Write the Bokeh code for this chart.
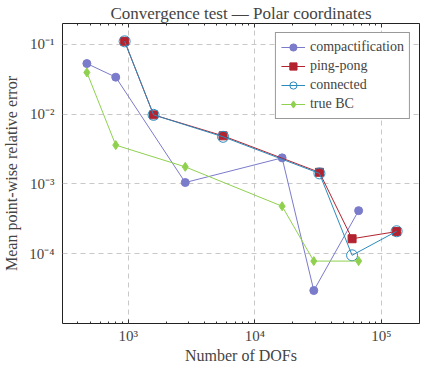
from bokeh.plotting import figure
from bokeh.models import FixedTicker, LogAxis, Legend, LegendItem
from bokeh.embed import file_html
from bokeh.resources import INLINE

# ---- data ----
comp_x = [472, 798, 2825, 16440, 29250, 66100]
comp_y = [0.0533, 0.034, 1.05e-3, 2.37e-3, 2.97e-5, 4.15e-4]

pp_x = [938, 1587, 5620, 32400, 58700, 132000]
pp_y = [0.111, 0.0098, 4.9e-3, 1.47e-3, 1.64e-4, 2.08e-4]

con_x = [938, 1587, 5620, 32400, 58700, 132000]
con_y = [0.111, 0.0098, 4.75e-3, 1.42e-3, 9.5e-5, 2.1e-4]

bc_x = [472, 798, 2825, 16440, 29250, 66100]
bc_y = [0.0398, 3.61e-3, 1.76e-3, 4.8e-4, 7.85e-5, 7.85e-5]

x_ticks = [1e3, 1e4, 1e5]
x_labels = {1e3: "10³", 1e4: "10⁴", 1e5: "10⁵"}
y_ticks = [1e-4, 1e-3, 1e-2, 1e-1]
y_labels = {1e-4: "10⁻⁴", 1e-3: "10⁻³", 1e-2: "10⁻²", 1e-1: "10⁻¹"}

C_COMP = "#7b7bcb"
C_PP = "#b2232f"
C_CON = "#2b8bbd"
C_BC = "#8fd14f"
FONT = "Liberation Serif"

minor = [m * 10 ** e for e in range(2, 6) for m in range(2, 10)]
xt = FixedTicker(ticks=x_ticks, minor_ticks=minor)
yt = FixedTicker(ticks=y_ticks, minor_ticks=[])

p = figure(width=420, height=366, x_axis_type="log", y_axis_type="log",
           x_range=(303, 200000), y_range=(1.0e-5, 0.2),
           output_backend="svg", toolbar_location=None,
           min_border_left=2, min_border_right=1, min_border_top=0, min_border_bottom=0)

p.title.text = "Convergence test — Polar coordinates"
p.title.align = "center"
p.title.text_font = FONT
p.title.text_font_style = "normal"
p.title.text_font_size = "17px"
p.title.standoff = 2

p.outline_line_color = "#222222"
p.outline_line_width = 1

for ax, t, lab in ((p.xaxis[0], xt, x_labels), (p.yaxis[0], yt, y_labels)):
    ax.ticker = t
    ax.major_label_overrides = lab
    ax.major_label_text_font = FONT
    ax.major_label_text_font_size = "15px"
    ax.axis_label_text_font = FONT
    ax.axis_label_text_font_size = "16px"
    ax.axis_label_text_font_style = "normal"
    ax.axis_line_color = None
    ax.major_tick_in = 4
    ax.major_tick_out = 0
    ax.minor_tick_in = 2
    ax.minor_tick_out = 0
    ax.major_tick_line_color = "#333333"
    ax.minor_tick_line_color = "#333333"

p.xaxis[0].axis_label = "Number of DOFs"
p.xaxis[0].axis_label_standoff = 0
p.xaxis[0].major_label_standoff = 4
p.yaxis[0].axis_label = "Mean point-wise relative error"
p.yaxis[0].axis_label_standoff = 6
p.yaxis[0].major_label_standoff = 8
p.yaxis[0].major_tick_line_color = None

top = LogAxis(ticker=FixedTicker(ticks=x_ticks, minor_ticks=minor),
              major_label_text_alpha=0, major_label_text_font=FONT,
              major_label_text_font_size="1px",
              axis_line_color=None,
              major_tick_in=4, major_tick_out=0, minor_tick_in=2, minor_tick_out=0,
              major_tick_line_color="#333333", minor_tick_line_color="#333333",
              major_label_standoff=0)
p.add_layout(top, "above")

for g in (p.xgrid[0], p.ygrid[0]):
    g.grid_line_color = "#c8c8c8"
    g.grid_line_dash = "5 4"
    g.grid_line_width = 1
p.xgrid[0].ticker = FixedTicker(ticks=x_ticks)
p.ygrid[0].ticker = FixedTicker(ticks=y_ticks)

l1 = p.line(comp_x, comp_y, line_color=C_COMP, line_width=1)
m1 = p.scatter(comp_x, comp_y, marker="circle", size=8, fill_color=C_COMP, line_color=C_COMP)
l2 = p.line(pp_x, pp_y, line_color=C_PP, line_width=1)
m2 = p.scatter(pp_x, pp_y, marker="square", size=8, fill_color=C_PP, line_color=C_PP)
l3 = p.line(con_x, con_y, line_color=C_CON, line_width=1)
m3 = p.scatter(con_x, con_y, marker="circle", size=11, fill_alpha=0, line_color=C_CON, line_width=1)
l4 = p.line(bc_x, bc_y, line_color=C_BC, line_width=1)
m4 = p.scatter(bc_x, bc_y, marker="diamond", size=9, fill_color=C_BC, line_color=C_BC)

legend = Legend(items=[
    LegendItem(label="compactification", renderers=[l1, m1]),
    LegendItem(label="ping-pong", renderers=[l2, m2]),
    LegendItem(label="connected", renderers=[l3, m3]),
    LegendItem(label="true BC", renderers=[l4, m4]),
], location="top_right")
legend.label_text_font = FONT
legend.label_text_font_size = "14px"
legend.glyph_width = 24
legend.glyph_height = 18
legend.label_height = 18
legend.label_standoff = 5
legend.spacing = 1
legend.padding = 5
legend.margin = 9
legend.border_line_color = "#333333"
legend.border_line_width = 1
legend.background_fill_alpha = 1.0
p.add_layout(legend)

open("out.html", "w").write(file_html(p, INLINE))
